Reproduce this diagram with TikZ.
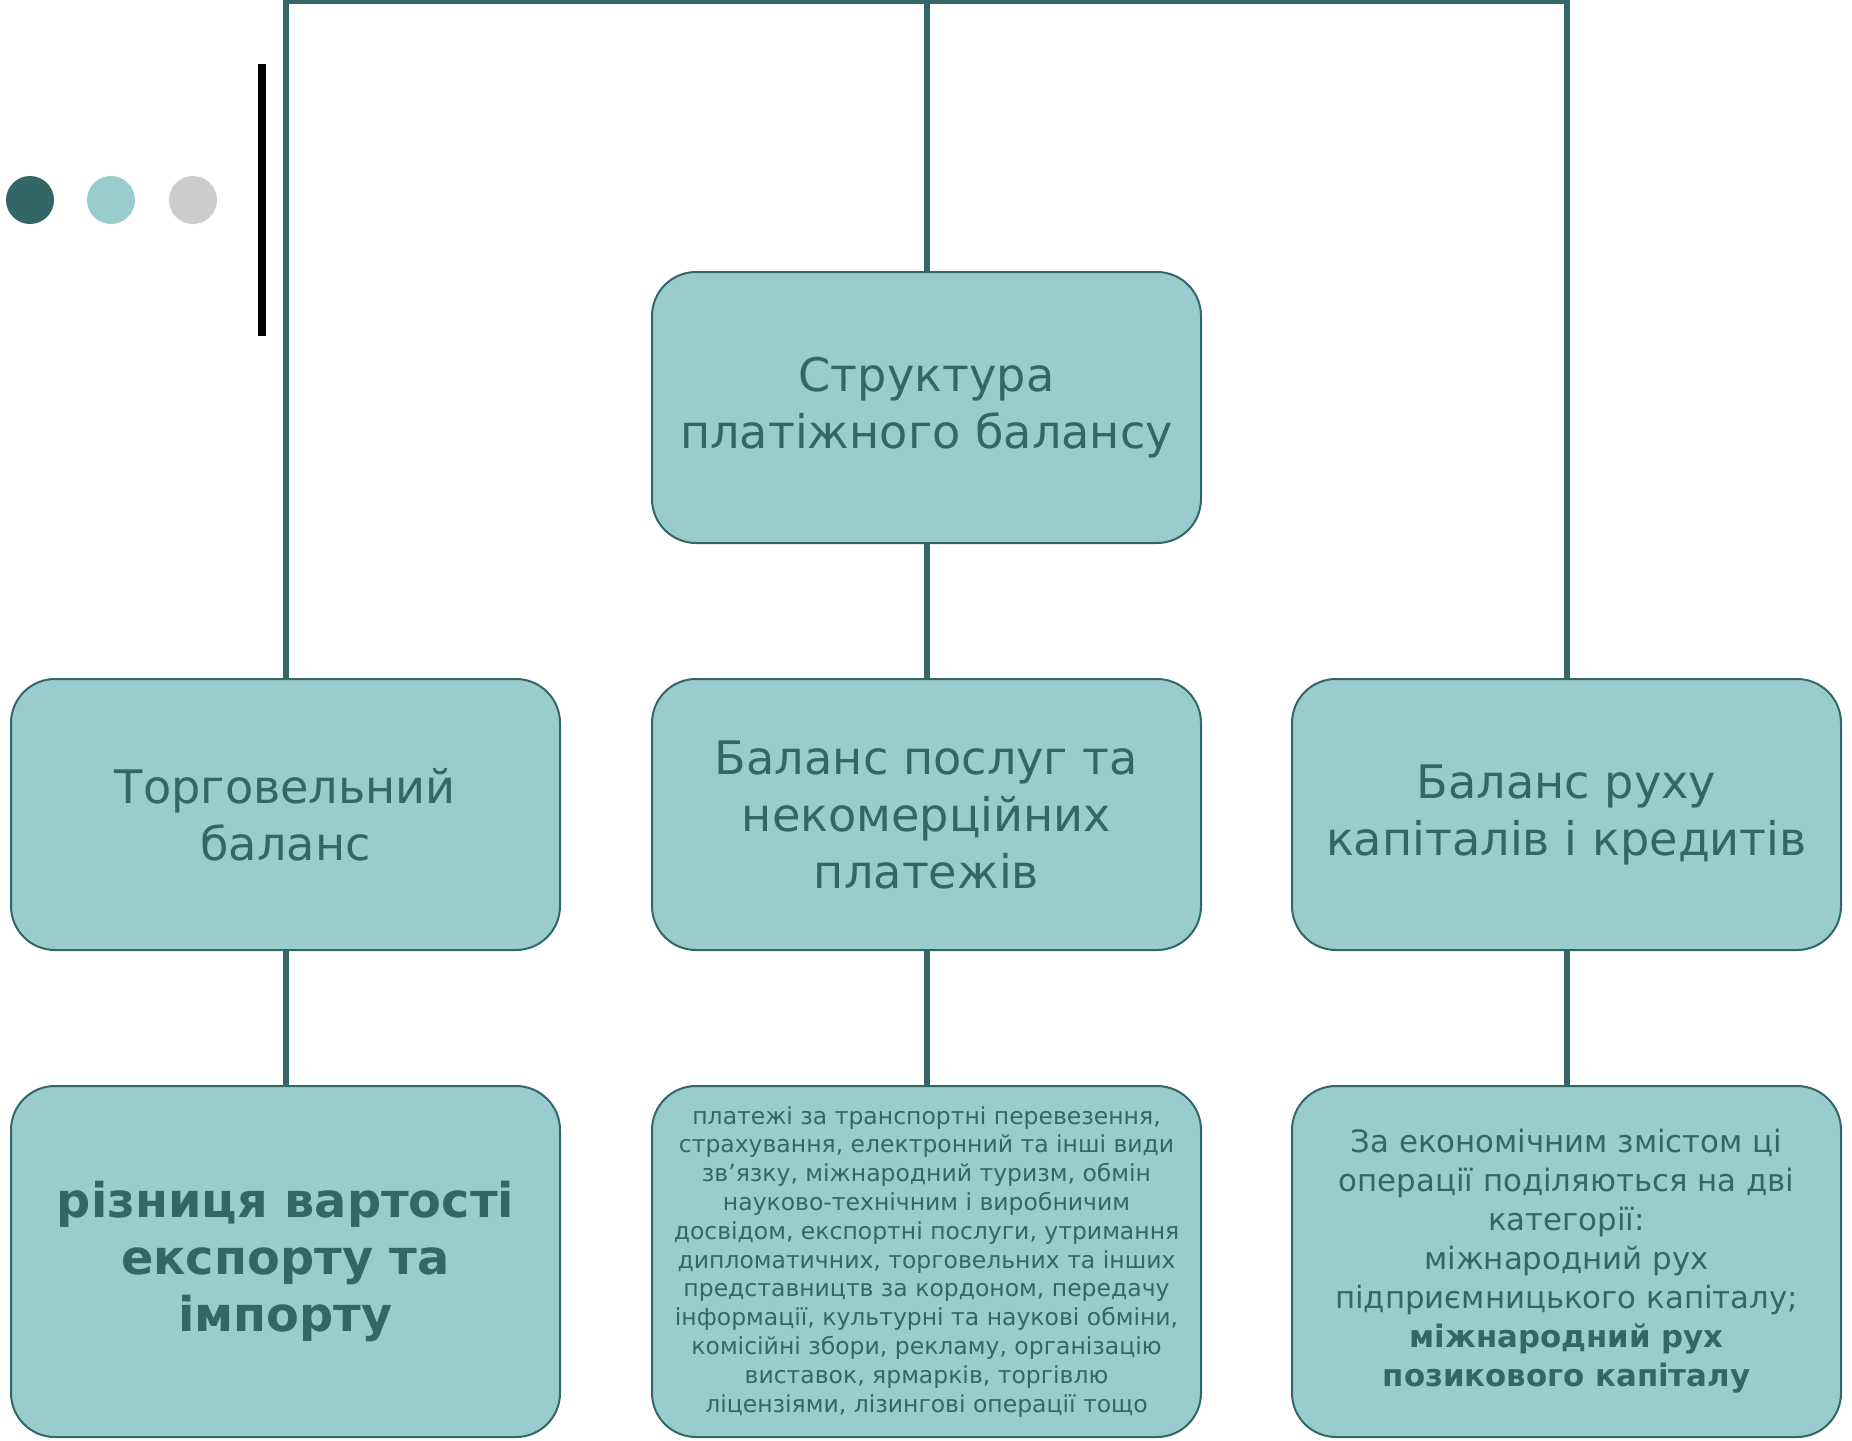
\documentclass[tikz,border=0pt]{standalone}
\usepackage{fontspec}
\setmainfont{DejaVu Sans}
\usepackage{tikz}
\usetikzlibrary{positioning}
\definecolor{tealdark}{HTML}{336666}
\definecolor{teallight}{HTML}{99CCCC}
\definecolor{dotgrey}{HTML}{CCCCCC}

\begin{document}
\begin{tikzpicture}[
    x=0.5pt, y=-0.5pt,
    every node/.style={text=tealdark},
    box/.style={
        rectangle,
        rounded corners=22pt,
        draw=tealdark,
        fill=teallight,
        line width=1pt,
        minimum width=274.5pt,
        minimum height=135.5pt,
        inner sep=0pt,
        outer sep=0pt,
        align=center,
        font=\fontsize{23.1}{28.5}\selectfont
    },
    tallbox/.style={box, minimum height=175.5pt},
    link/.style={draw=tealdark, line width=3pt}
]
    \useasboundingbox (0,0) rectangle (1852,1440);

    % === DECORATION ===
    \fill[tealdark] (30,200) circle (24);
    \fill[teallight] (111,200) circle (24);
    \fill[dotgrey] (193,200) circle (24);
    \draw[black, line width=4pt] (262,64) -- (262,336);

    % === TOP ===
    \node[box] (struct) at (926.5,407.5) {Структура\\платіжного балансу};

    % === MAIN PARTS ===
    \node[box, below=68pt of struct] (services) {Баланс послуг та\\некомерційних\\платежів};
    \node[box, left=46pt of services] (trade) {Торговельний\\баланс};
    \node[box, right=45.5pt of services] (capital) {Баланс руху\\капіталів і кредитів};

    % === DETAILS ===
    \node[tallbox, below=68pt of trade, font=\bfseries\fontsize{23.9}{28.5}\selectfont] (tradedet) {
        різниця вартості\\експорту та\\імпорту
    };
    \node[tallbox, below=68pt of services, font=\fontsize{11.75}{14.4}\selectfont] (servicesdet) {
        платежі за транспортні перевезення,\\
        страхування, електронний та інші види\\
        зв’язку, міжнародний туризм, обмін\\
        науково-технічним і виробничим\\
        досвідом, експортні послуги, утримання\\
        дипломатичних, торговельних та інших\\
        представництв за кордоном, передачу\\
        інформації, культурні та наукові обміни,\\
        комісійні збори, рекламу, організацію\\
        виставок, ярмарків, торгівлю\\
        ліцензіями, лізингові операції тощо
    };
    \node[tallbox, below=68pt of capital, font=\fontsize{15.4}{19.5}\selectfont] (capitaldet) {
        За економічним змістом ці\\
        операції поділяються на дві\\
        категорії:\\
        міжнародний рух\\
        підприємницького капіталу;\\
        \textbf{міжнародний рух}\\
        \textbf{позикового капіталу}
    };

    % === CONNECTORS ===
    \coordinate (bus) at (926.5,1);
    \draw[link] (trade.north) |- (bus) -| (capital.north);
    \draw[link] (bus) -- (struct.north);
    \draw[link] (struct.south) -- (services.north);
    \draw[link] (trade.south) -- (tradedet.north);
    \draw[link] (services.south) -- (servicesdet.north);
    \draw[link] (capital.south) -- (capitaldet.north);
\end{tikzpicture}
\end{document}
